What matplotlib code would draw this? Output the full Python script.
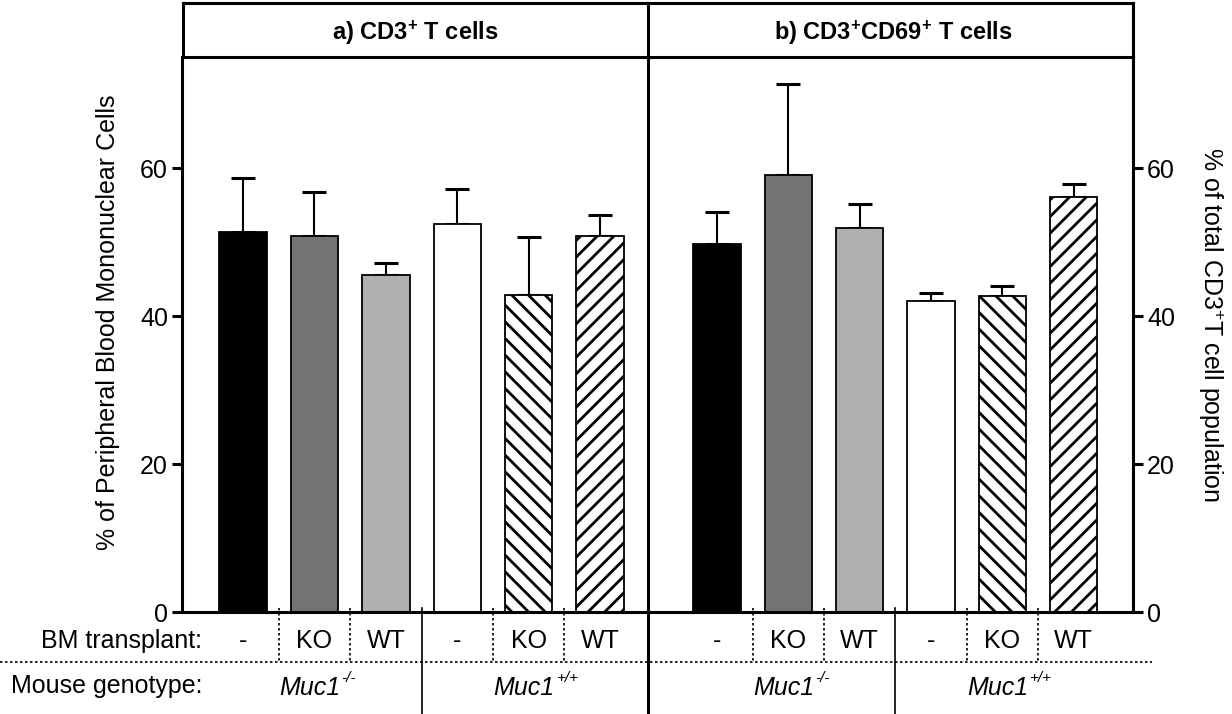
import matplotlib
matplotlib.use("Agg")
import matplotlib.pyplot as plt
from matplotlib.lines import Line2D
from matplotlib.transforms import blended_transform_factory
import numpy as np

plt.rcParams['font.family'] = ['Liberation Sans', 'DejaVu Sans']
plt.rcParams['mathtext.fontset'] = 'custom'
plt.rcParams['mathtext.rm'] = 'Liberation Sans'
plt.rcParams['mathtext.it'] = 'Liberation Sans:italic'
plt.rcParams['mathtext.bf'] = 'Liberation Sans:bold'
plt.rcParams['hatch.linewidth'] = 2.0

# ---- data ----
bm_labels = ['-', 'KO', 'WT', '-', 'KO', 'WT']
genotype_names = ['Muc1', 'Muc1']
genotype_sups = ['-/-', '+/+']
panel_titles = [r'a) CD3$^{\mathbf{+}}$ T cells', r'b) CD3$^{\mathbf{+}}$CD69$^{\mathbf{+}}$ T cells']

cd3_mean = [51.4, 50.8, 45.6, 52.5, 42.9, 50.8]
cd3_err = [7.2, 5.9, 1.5, 4.6, 7.8, 2.8]
cd69_mean = [49.7, 59.1, 51.9, 42.0, 42.7, 56.1]
cd69_err = [4.3, 12.2, 3.2, 1.1, 1.4, 1.8]

bar_colors = ['#000000', '#737373', '#b0b0b0', '#ffffff', '#ffffff', '#ffffff']
bar_hatches = [None, None, None, None, '\\\\', '//']

yticks = [0, 20, 40, 60]
left_ylabel = '% of Peripheral Blood Mononuclear Cells'
right_ylabel = r'% of total CD3$^{+}$T cell population'

W, H = 1232, 714
fig = plt.figure(figsize=(W / 100, H / 100), dpi=100)

def fx(px):
    return px / W

def fy(py):
    return 1 - py / H

top_px, base_px = 57, 612
axL = fig.add_axes([fx(182), fy(base_px), fx(648 - 182), (base_px - top_px) / H])
axR = fig.add_axes([fx(648), fy(base_px), fx(1133 - 648), (base_px - top_px) / H])

x = np.arange(6)
LW = 2.2
FS = 18

for ax, means, errs, xlim in [(axL, cd3_mean, cd3_err, (-0.854, 5.67)),
                              (axR, cd69_mean, cd69_err, (-0.966, 5.83))]:
    bars = ax.bar(x, means, width=0.665, color=bar_colors, edgecolor='black',
                  linewidth=1.3, zorder=2)
    for b, h in zip(bars, bar_hatches):
        if h:
            b.set_hatch(h)
    ax.errorbar(x, means, yerr=[np.zeros(len(errs)), errs], fmt='none',
                ecolor='black', elinewidth=1.5, capsize=8.5, capthick=2.2, zorder=1)
    ax.set_xlim(*xlim)
    ax.set_ylim(0, 75)
    ax.set_xticks([])
    ax.set_yticks(yticks)
    ax.spines['top'].set_visible(False)
    ax.spines['bottom'].set_linewidth(LW)
    ax.patch.set_alpha(0)

axL.spines['right'].set_visible(False)
axL.spines['left'].set_linewidth(LW)
axL.tick_params(axis='y', direction='out', length=7, width=LW, labelsize=FS, pad=3)

axR.spines['left'].set_visible(False)
axR.spines['right'].set_linewidth(LW)
axR.yaxis.tick_right()
axR.tick_params(axis='y', direction='out', length=7, width=LW, labelsize=FS, pad=3)

# header box
axH = fig.add_axes([fx(183), fy(57), fx(1133 - 183), (57 - 3) / H])
axH.set_xticks([]); axH.set_yticks([])
for s in axH.spines.values():
    s.set_linewidth(LW)
axH.text((415 - 183) / (1133 - 183), 0.45, panel_titles[0], ha='center', va='center',
         fontsize=17, fontweight='bold', transform=axH.transAxes)
axH.text((893 - 183) / (1133 - 183), 0.45, panel_titles[1], ha='center', va='center',
         fontsize=17, fontweight='bold', transform=axH.transAxes)

# middle divider from top of header to figure bottom
fig.add_artist(Line2D([fx(648), fx(648)], [0, fy(3)], color='black', lw=LW,
                      transform=fig.transFigure))

# table below
y_bm = fy(641)
y_dot = fy(662)
y_gen = fy(688)
fig.text(fx(202), y_bm, 'BM transplant:', ha='right', va='center', fontsize=FS)
fig.text(fx(202), fy(686), 'Mouse genotype:', ha='right', va='center', fontsize=FS)
fig.add_artist(Line2D([0, fx(1152)], [y_dot, y_dot], color='black', lw=1.2,
                      linestyle=(0, (1.5, 1.5)), transform=fig.transFigure))

for ax in (axL, axR):
    tr = blended_transform_factory(ax.transData, fig.transFigure)
    for i, lab in enumerate(bm_labels):
        ax.text(i, y_bm, lab, ha='center', va='center', fontsize=FS, transform=tr,
                clip_on=False)
    for g, (name, sup) in enumerate(zip(genotype_names, genotype_sups)):
        t = ax.text(3 * g + 0.93, y_gen, name, ha='center', va='center', fontsize=FS,
                    style='italic', transform=tr, clip_on=False)
        ax.annotate(sup, xy=(1.0, 0.62), xycoords=t, xytext=(1, 0),
                    textcoords='offset points', ha='left', va='bottom',
                    fontsize=11, style='italic', annotation_clip=False)
    for d in (0.5, 1.5, 3.5, 4.5):
        ax.add_artist(Line2D([d, d], [fy(base_px - 4), y_dot], color='black', lw=1.2,
                             linestyle=(0, (1.5, 1.5)), transform=tr, clip_on=False))
    ax.add_artist(Line2D([2.5, 2.5], [fy(base_px - 4), 0], color='black', lw=1.2,
                         transform=tr, clip_on=False))

fig.text(fx(108), fy(322), left_ylabel, rotation=90,
         ha='center', va='center', fontsize=FS)
fig.text(fx(1211), fy(324), right_ylabel, rotation=270,
         ha='center', va='center', fontsize=FS)

fig.savefig('out.png', dpi=100)
